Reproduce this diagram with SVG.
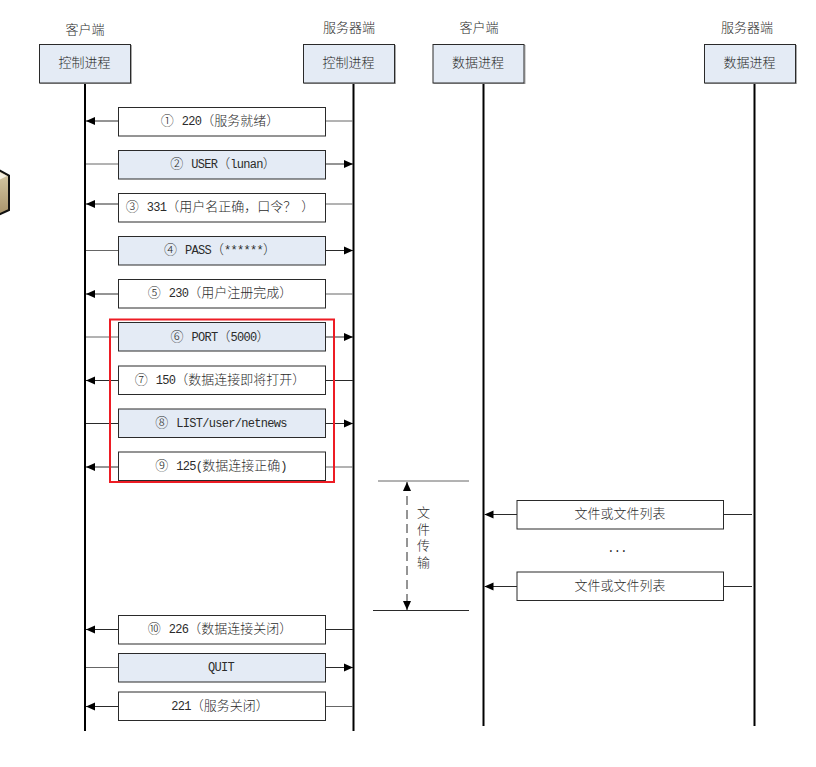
<svg xmlns="http://www.w3.org/2000/svg" width="816" height="767" viewBox="0 0 816 767">
<style>
text{font-family:"Liberation Mono","Noto Sans CJK SC",monospace;font-size:13px;fill:#2b2b2b;text-anchor:middle;white-space:pre}
.cn{font-family:"Noto Sans CJK SC","Liberation Sans",sans-serif;font-weight:300}
.m{font-size:12px;letter-spacing:-0.7px}
.box{stroke:#2a2a2a;stroke-width:1}
.w{fill:#fff}
.b{fill:#e4ebf5}
.sh{fill:none;stroke:#a8a8a8;stroke-width:1}
.life{stroke:#000;stroke-width:2;fill:none}
.c{stroke:#2a2a2a;stroke-width:1;fill:none}
.g{stroke:#666}
.l{marker-end:url(#a)}
</style>
<defs>
<marker id="a" markerUnits="userSpaceOnUse" markerWidth="9" markerHeight="9" refX="9" refY="4.5" orient="auto-start-reverse"><path d="M0 0.5L9 4.5L0 8.5z" fill="#000"/></marker>
<linearGradient id="t" x1="0" y1="0" x2="0" y2="1"><stop offset="0" stop-color="#d8cba8"/><stop offset="1" stop-color="#a8936a"/></linearGradient>
</defs>

<g id="cube">
<path d="M-2 169.500L9 175.500V210L-2 215z" fill="url(#t)" stroke="#111" stroke-width="2"/>
<path d="M-1 172L7 176L-1 180z" fill="#f5efe0"/>
</g>

<g id="connectors">
<path class="life" d="M85 83V731M353.500 83V731M483.500 83V726M754.500 83V726"/>
<g class="c">
<path class="l" d="M118 121H86"/><path class="g" d="M326 121H353"/>
<path class="g" d="M86 164H118"/><path class="l" d="M326 164H353"/>
<path class="l" d="M118 204H86"/><path class="g" d="M326 204H353"/>
<path class="g" d="M86 250.500H118"/><path class="l" d="M326 250.500H353"/>
<path class="l" d="M118 294H86"/><path class="g" d="M326 294H353"/>
<path class="g" d="M86 337H118"/><path class="l" d="M326 337H353"/>
<path class="l" d="M118 380.500H86"/><path d="M326 380.500H353"/>
<path d="M86 423.500H118"/><path class="l" d="M326 423.500H353"/>
<path class="l" d="M118 467H86"/><path class="g" d="M326 467H353"/>
<path class="l" d="M118 629.500H86"/><path d="M326 629.500H353"/>
<path class="g" d="M86 667.500H118"/><path class="l" d="M326 667.500H353"/>
<path class="l" d="M118 706.500H86"/><path class="g" d="M326 706.500H353"/>
<path class="l" d="M517 514.500H484.500"/><path d="M724 514.500H752"/>
<path class="l" d="M517 586.500H484.500"/><path d="M724 586.500H752"/>
<path class="g" d="M378 481H469"/>
<path d="M373 610.500H469"/>
<path stroke-dasharray="9 5" style="marker-start:url(#a);marker-end:url(#a)" d="M407 482V610"/>
</g>
</g>

<g id="label-client-1"><text class="cn" x="85" y="34">客户端</text></g>
<g id="label-server-1"><text class="cn" x="349" y="32">服务器端</text></g>
<g id="label-client-2"><text class="cn" x="479" y="32">客户端</text></g>
<g id="label-server-2"><text class="cn" x="747" y="32">服务器端</text></g>

<g id="head-1"><rect class="sh" x="40.500" y="45.500" width="91" height="38"/><rect class="box b" x="39.500" y="44.500" width="91" height="38.500"/><text class="cn" x="84.500" y="67">控制进程</text></g>
<g id="head-2"><rect class="sh" x="304.500" y="45.500" width="91" height="38"/><rect class="box b" x="303.500" y="44.500" width="91" height="38.500"/><text class="cn" x="348.500" y="67">控制进程</text></g>
<g id="head-3"><rect class="sh" x="434" y="45.500" width="91" height="38"/><rect class="box b" x="433" y="44.500" width="91" height="38.500"/><text class="cn" x="478" y="67">数据进程</text></g>
<g id="head-4"><rect class="sh" x="705.500" y="45.500" width="91" height="38"/><rect class="box b" x="704.500" y="44.500" width="91" height="38.500"/><text class="cn" x="749.500" y="67">数据进程</text></g>

<g id="msg-1"><rect class="box w" x="118.500" y="107.500" width="207" height="28.500"/><text x="220" y="125"><tspan class="cn">①</tspan> <tspan class="m">220</tspan><tspan class="cn">（服务就绪）</tspan></text></g>
<g id="msg-2"><rect class="box b" x="118.500" y="150.500" width="207" height="28.500"/><text x="223" y="168"><tspan class="cn">②</tspan> <tspan class="m">USER</tspan><tspan class="cn">（</tspan><tspan class="m">lunan</tspan><tspan class="cn">）</tspan></text></g>
<g id="msg-3"><rect class="box w" x="118.500" y="193.500" width="207" height="28.500"/><text x="220" y="211"><tspan class="cn">③</tspan> <tspan class="m">331</tspan><tspan class="cn">（用户名正确，口令？</tspan><tspan class="cn" dx="5">）</tspan></text></g>
<g id="msg-4"><rect class="box b" x="118.500" y="236.500" width="207" height="28.500"/><text x="220" y="254"><tspan class="cn">④</tspan> <tspan class="m">PASS</tspan><tspan class="cn">（</tspan><tspan class="m">******</tspan><tspan class="cn">）</tspan></text></g>
<g id="msg-5"><rect class="box w" x="118.500" y="279.500" width="207" height="28.500"/><text x="220" y="297"><tspan class="cn">⑤</tspan> <tspan class="m">230</tspan><tspan class="cn">（用户注册完成）</tspan></text></g>
<g id="msg-6"><rect class="box b" x="118.500" y="322.500" width="207" height="28.500"/><text x="220" y="341"><tspan class="cn">⑥</tspan> <tspan class="m">PORT</tspan><tspan class="cn">（</tspan><tspan class="m">5000</tspan><tspan class="cn">）</tspan></text></g>
<g id="msg-7"><rect class="box w" x="118.500" y="366" width="207" height="28.500"/><text x="220" y="384"><tspan class="cn">⑦</tspan> <tspan class="m">150</tspan><tspan class="cn">（数据连接即将打开）</tspan></text></g>
<g id="msg-8"><rect class="box b" x="118.500" y="409" width="207" height="28.500"/><text x="221" y="427"><tspan class="cn">⑧</tspan> <tspan class="m">LIST/user/netnews</tspan></text></g>
<g id="msg-9"><rect class="box w" x="118.500" y="452" width="207" height="28.500"/><text x="221" y="470"><tspan class="cn">⑨</tspan> <tspan class="m">125(</tspan><tspan class="cn">数据连接正确</tspan><tspan class="m">)</tspan></text></g>
<g id="msg-10"><rect class="box w" x="118.500" y="615.500" width="207" height="28.500"/><text x="220" y="633"><tspan class="cn">⑩</tspan> <tspan class="m">226</tspan><tspan class="cn">（数据连接关闭）</tspan></text></g>
<g id="msg-quit"><rect class="box b" x="118.500" y="653.500" width="207" height="28.500"/><text class="m" x="221" y="671">QUIT</text></g>
<g id="msg-11"><rect class="box w" x="118.500" y="692" width="207" height="28.500"/><text x="220" y="710"><tspan class="m">221</tspan><tspan class="cn">（服务关闭）</tspan></text></g>

<g id="file-1"><rect class="box w" x="517" y="500.500" width="206.500" height="28.500"/><text class="cn" x="620" y="518">文件或文件列表</text></g>
<text class="m" x="617" y="552">...</text>
<g id="file-2"><rect class="box w" x="517" y="572" width="206.500" height="28.500"/><text class="cn" x="620" y="590">文件或文件列表</text></g>

<g id="transfer-label"><text class="cn" x="423.500" y="506" style="writing-mode:vertical-rl;text-anchor:start;letter-spacing:3.4px">文件传输</text></g>

<g id="highlight"><rect x="110" y="319.500" width="224" height="162.500" fill="none" stroke="#ed1c24" stroke-width="2"/></g>
</svg>
